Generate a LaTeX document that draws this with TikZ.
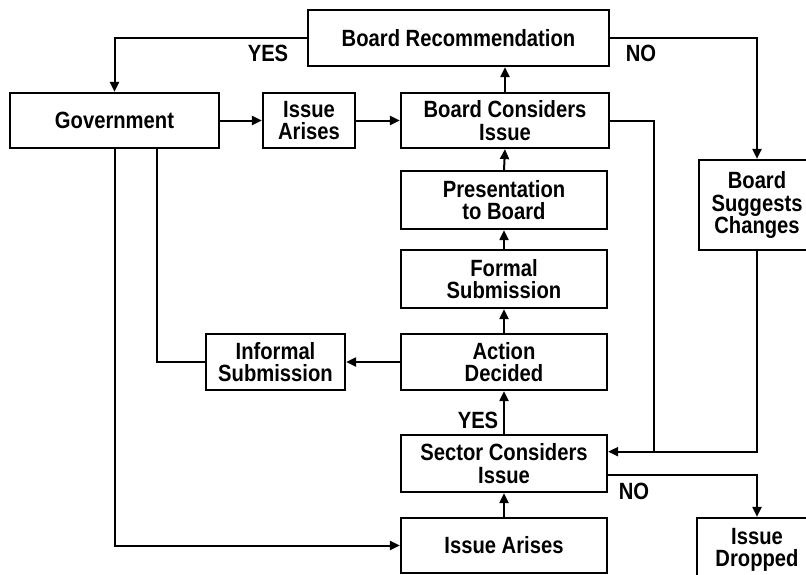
\documentclass[tikz,border=0pt]{standalone}
\usepackage{fontspec}
\setmainfont{Liberation Sans}[FakeStretch=0.86]
\usetikzlibrary{arrows.meta,calc}
\begin{document}
\begin{tikzpicture}[x=1pt,y=-1pt,
  box/.style={draw,line width=2.2pt,rectangle,align=center,inner sep=0pt,
    font=\fontsize{23.5}{22.5}\selectfont\bfseries},
  lbl/.style={font=\fontsize{23.5}{22.5}\selectfont\bfseries,inner sep=0pt},
  conn/.style={line width=2pt},
  arr/.style={conn,-{Triangle[length=10pt,width=9pt]}}]
\useasboundingbox (0,0) rectangle (806,574);
\clip (0,0) rectangle (806,574);
\node[box,minimum width=301pt,minimum height=56pt] (rec) at (458.5,38) {Board Recommendation};
\node[box,minimum width=209pt,minimum height=55pt] (gov) at (114.5,120.5) {Government};
\node[box,minimum width=92pt,minimum height=55pt] (ia1) at (309,120.5) {Issue\\Arises};
\node[box,minimum width=208pt,minimum height=55pt] (bci) at (505,120.5) {Board Considers\\Issue};
\node[box,minimum width=206pt,minimum height=58pt] (pres) at (504,200) {Presentation\\to Board};
\node[box,minimum width=206pt,minimum height=58pt] (formal) at (504,279) {Formal\\Submission};
\node[box,minimum width=206pt,minimum height=56pt] (action) at (504,362) {Action\\Decided};
\node[box,minimum width=139pt,minimum height=56pt] (informal) at (275.5,362) {Informal\\Submission};
\node[box,minimum width=206pt,minimum height=57pt] (sector) at (504,463.5) {Sector Considers\\Issue};
\node[box,minimum width=206pt,minimum height=55pt] (ia2) at (504,545.5) {Issue Arises};
\node[box,minimum width=116pt,minimum height=90pt] (bsc) at (757,205) {Board\\Suggests\\Changes};
\node[box,minimum width=120pt,minimum height=64pt] (drop) at (757,550) {Issue\\Dropped};
% labels
\node[lbl] (yes1) at (268,53) {YES};
\node[lbl] (no1) at (641,53) {NO};
\node[lbl] (yes2) at (478,420) {YES};
\node[lbl] (no2) at (634,491) {NO};
% coordinates
\coordinate (g2) at ($(gov.south west)!0.7!(gov.south east)$);
\coordinate (j) at (654,452);
\coordinate (sIn) at ($(sector.north east)!0.3!(sector.south east)$);
\coordinate (sOut) at ($(sector.north east)!0.7!(sector.south east)$);
% connectors
\draw[arr] (rec.west) -| (gov.north);
\draw[arr] (rec.east) -| (bsc.north);
\draw[arr] (gov.east) -- (ia1.west);
\draw[arr] (ia1.east) -- (bci.west);
\draw[arr] (bci.north) -- (bci.north |- rec.south);
\draw[arr] (pres.north) -- (bci.south);
\draw[arr] (formal.north) -- (pres.south);
\draw[arr] (action.north) -- (formal.south);
\draw[arr] (sector.north) -- (action.south);
\draw[arr] (ia2.north) -- (sector.south);
\draw[arr] (action.west) -- (informal.east);
\draw[conn] (informal.west) -| (g2);
\draw[arr] (gov.south) |- (ia2.west);
\draw[conn] (bci.east) -| (j);
\draw[arr] (bsc.south) |- (sIn);
\draw[arr] (sOut) -| (drop.north);
\end{tikzpicture}
\end{document}
